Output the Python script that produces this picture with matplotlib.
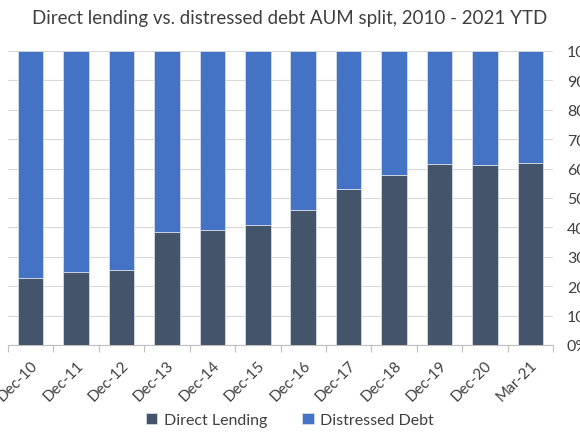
import numpy as np
import matplotlib.pyplot as plt
from matplotlib.ticker import FixedLocator, PercentFormatter

plt.rcParams['font.family'] = ['Lato', 'DejaVu Sans']

categories = ['Dec-10', 'Dec-11', 'Dec-12', 'Dec-13', 'Dec-14', 'Dec-15',
              'Dec-16', 'Dec-17', 'Dec-18', 'Dec-19', 'Dec-20', 'Mar-21']
direct_lending = [22.7, 25.0, 25.4, 38.5, 39.1, 40.8, 45.9, 53.0, 57.8, 61.6, 61.2, 62.0]
distressed_debt = [100 - v for v in direct_lending]

fig = plt.figure(figsize=(5.8, 4.35), dpi=100)
ax = fig.add_axes([8 / 580, 89 / 435, 545 / 580, 294 / 435])

x = np.arange(len(categories))
ax.bar(x, direct_lending, width=0.56, color='#44546A', edgecolor='#D6DCE5',
       linewidth=0.6, label='Direct Lending', zorder=3)
ax.bar(x, distressed_debt, width=0.56, bottom=direct_lending, color='#4472C4',
       edgecolor='#D6DCE5', linewidth=0.6, label='Distressed Debt', zorder=3)

ax.set_xlim(-0.5, len(categories) - 0.5)
ax.set_ylim(0, 100)
ax.set_yticks(np.arange(0, 101, 10))
ax.yaxis.set_major_formatter(PercentFormatter(decimals=0))
ax.yaxis.tick_right()
ax.tick_params(axis='y', length=0, pad=10, labelsize=11.5, labelcolor='#404040')
ax.grid(axis='y', color='#D9D9D9', linewidth=0.8, zorder=0)

ax.set_xticks(x)
ax.set_xticklabels(categories, rotation=45, ha='right', rotation_mode='anchor')
ax.tick_params(axis='x', length=0, pad=9, labelsize=11, labelcolor='#404040')
ax.xaxis.set_minor_locator(FixedLocator(np.arange(-0.5, len(categories), 1)))
ax.tick_params(axis='x', which='minor', length=5, color='#BFBFBF', width=0.8)

for s in ['top', 'left', 'right']:
    ax.spines[s].set_visible(False)
ax.spines['bottom'].set_color('#BFBFBF')
ax.spines['bottom'].set_linewidth(0.8)

fig.text(0.5, 0.958, 'Direct lending vs. distressed debt AUM split, 2010 - 2021 YTD',
         ha='center', va='center', fontsize=13.5, color='#404040')

fig.legend(loc='center', bbox_to_anchor=(0.5, 0.032), ncol=2, frameon=False,
           fontsize=11.5, handlelength=0.7, handleheight=0.7, handletextpad=0.4,
           columnspacing=2.2, labelcolor='#404040')

fig.savefig('out.png', dpi=100)
